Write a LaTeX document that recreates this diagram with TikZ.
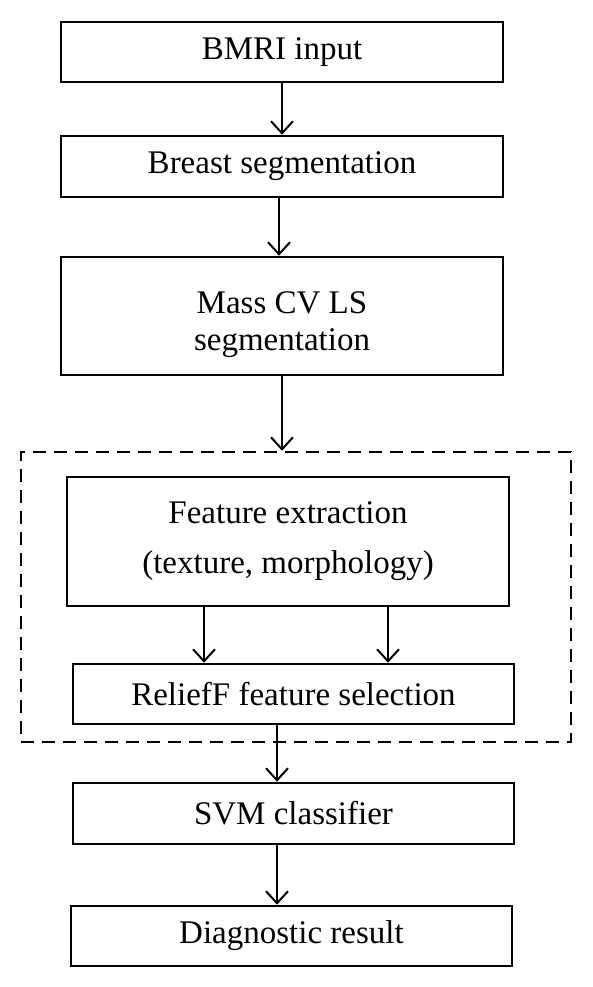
\documentclass[tikz,border=0pt]{standalone}
\usepackage{fontspec}
\setmainfont{Liberation Serif}
\usetikzlibrary{arrows.meta}
\begin{document}
\begin{tikzpicture}[x=1pt,y=-1pt,
  stepbox/.style={draw=black, line width=2.6pt, inner sep=0pt, align=center,
    font=\fontsize{33}{37}\selectfont},
  groupbox/.style={draw=black, line width=2.5pt, dash pattern=on 13pt off 8pt, inner sep=0pt},
  arr/.style={line width=2pt, -{Straight Barb[length=12pt,width=22pt,line width=2pt]}}
]
\useasboundingbox (0,0) rectangle (592,987);
\fill[white] (0,0) rectangle (592,987);

\node[groupbox, minimum width=550pt, minimum height=290pt] (grp) at (296,597) {};

\node[stepbox, minimum width=442pt, minimum height=60pt] (bmri) at (282,52) {BMRI input};
\node[stepbox, minimum width=442pt, minimum height=61pt] (breast) at (282,166.5) {Breast segmentation};
\node[stepbox, minimum width=442pt, minimum height=118pt] (mass) at (282,316) {\rule{0pt}{40pt}Mass CV LS\\segmentation};
\node[stepbox, minimum width=442pt, minimum height=129pt] (feat) at (288,541.5) {Feature extraction\\[13pt](texture, morphology)};
\node[stepbox, minimum width=441pt, minimum height=60pt] (relief) at (293.5,694) {ReliefF feature selection};
\node[stepbox, minimum width=441pt, minimum height=61pt] (svm) at (293.5,813.5) {SVM classifier};
\node[stepbox, minimum width=441pt, minimum height=60pt] (diag) at (291.5,936) {Diagnostic result};

\draw[arr] (bmri.south) -- (breast.north);
\draw[arr] ([xshift=-3pt]breast.south) -- ([xshift=-3pt]mass.north);
\draw[arr] (mass.south) -- (mass.south |- grp.north);
\draw[arr] ([xshift=-84pt]feat.south) -- ([xshift=-84pt]feat.south |- relief.north);
\draw[arr] ([xshift=100pt]feat.south) -- ([xshift=100pt]feat.south |- relief.north);
\draw[arr] ([xshift=-16.5pt]relief.south) -- ([xshift=-16.5pt]svm.north);
\draw[arr] ([xshift=-16.5pt]svm.south) -- ([xshift=-16.5pt]svm.south |- diag.north);
\end{tikzpicture}
\end{document}
